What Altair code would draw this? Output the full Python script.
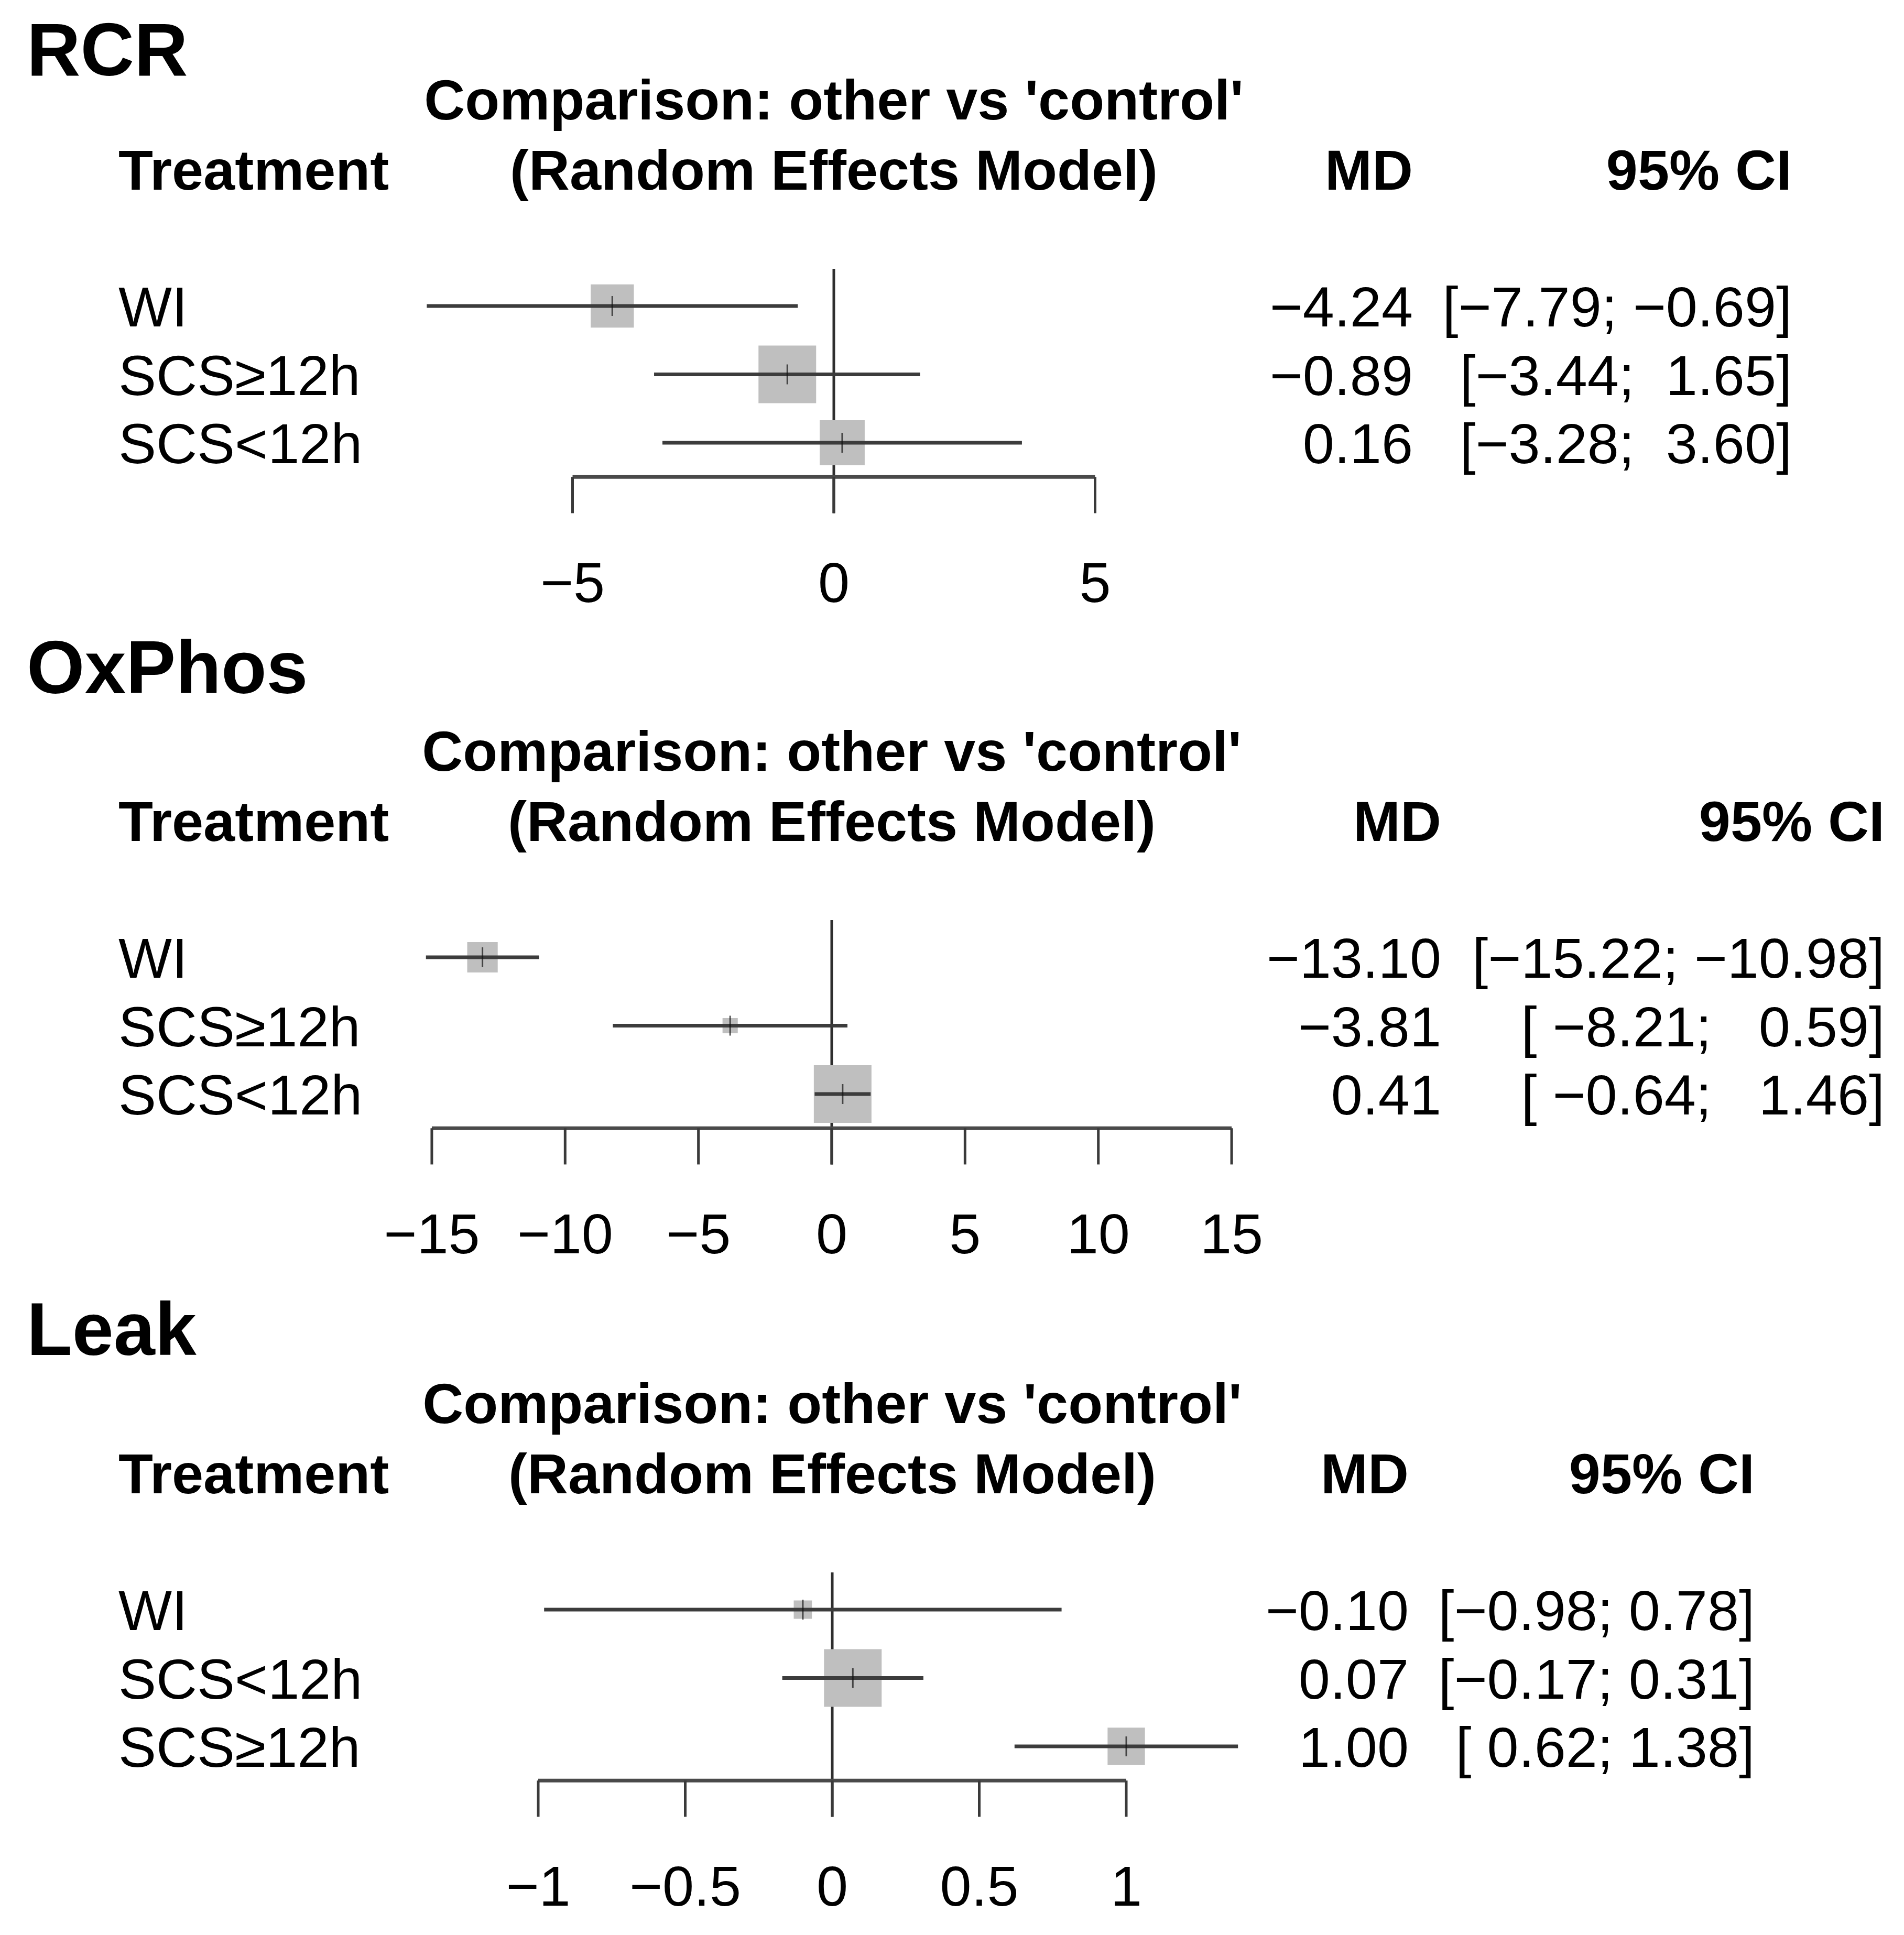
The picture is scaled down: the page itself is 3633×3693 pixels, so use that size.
import altair as alt
import pandas as pd

# ------------------------------------------------------------------ data
panel_titles = ["RCR", "OxPhos", "Leak"]

rcr_treat = ["WI", "SCS≥12h", "SCS<12h"]
rcr_md = [-4.24, -0.89, 0.16]
rcr_lo = [-7.79, -3.44, -3.28]
rcr_hi = [-0.69, 1.65, 3.60]
rcr_weight = [56, 100, 61]
rcr_ticks = [-5, 0, 5]

ox_treat = ["WI", "SCS≥12h", "SCS<12h"]
ox_md = [-13.10, -3.81, 0.41]
ox_lo = [-15.22, -8.21, -0.64]
ox_hi = [-10.98, 0.59, 1.46]
ox_weight = [28, 7, 100]
ox_ticks = [-15, -10, -5, 0, 5, 10, 15]

leak_treat = ["WI", "SCS<12h", "SCS≥12h"]
leak_md = [-0.10, 0.07, 1.00]
leak_lo = [-0.98, -0.17, 0.62]
leak_hi = [0.78, 0.31, 1.38]
leak_weight = [10, 100, 42]
leak_ticks = [-1, -0.5, 0, 0.5, 1]

comparison_text = "Comparison: other vs 'control'"
model_text = "(Random Effects Model)"
header_treatment = "Treatment"
header_md = "MD"
header_ci = "95% CI"

# ------------------------------------------------------------------ layout / style
FONT = "Liberation Sans"
FS = 108          # body text size
TFS = 142         # panel title size
W = 3610
PANEL_H = [1177, 1255, 1240]
ROW0_PX = [576, 642, 632]
ZERO_PX = [1583, 1579, 1580]
PX_PER_UNIT = [99.7, 50.87, 561.0]
MD_X = [2688, 2742, 2680]
CI_X = [3411, 3588, 3340]
TITLE_ROW = [-3.76, -4.25, -4.115]
ROW_PX = 130.5
LABEL_X = 218
TITLE_X = 43
COMP_ROW = -3.03
HEAD_ROW = -2.0
REF_TOP = -0.545
AXIS_ROW = 2.5
TICK_END = 3.03
TICKLAB_ROW = 4.03
SQUARE_MAX = 110 ** 2

MINUS = "\u2212"
NBSP = "\u00a0"


def fmt2(v):
    return f"{v:.2f}"


def rpad(strs):
    w = max(len(s) for s in strs)
    return [s.rjust(w) for s in strs]


def ci_strings(lo, hi):
    L = rpad([fmt2(v) for v in lo])
    H = rpad([fmt2(v) for v in hi])
    return [("[" + a + "; " + b + "]").replace("-", MINUS).replace(" ", NBSP)
            for a, b in zip(L, H)]


def tick_label(v):
    return f"{v:g}".replace("-", MINUS)


def panel(i, title, treat, md, lo, hi, weight, ticks):
    H = PANEL_H[i]
    row0 = ROW0_PX[i]
    xdom = [-ZERO_PX[i] / PX_PER_UNIT[i], (W - ZERO_PX[i]) / PX_PER_UNIT[i]]
    ydom = [-row0 / ROW_PX, (H - row0) / ROW_PX]
    xs = alt.Scale(domain=xdom, nice=False, zero=False)
    ys = alt.Scale(domain=ydom, nice=False, zero=False, reverse=True)

    def X(f):
        return alt.X(f, type="quantitative", scale=xs, axis=None)

    def X2(f):
        return alt.X2(f)

    def Y(f):
        return alt.Y(f, type="quantitative", scale=ys, axis=None)

    rows = pd.DataFrame({
        "treatment": treat,
        "row": list(range(len(treat))),
        "md": md,
        "lo": lo,
        "hi": hi,
        "weight": weight,
        "md_txt": [fmt2(v).replace("-", MINUS) for v in md],
        "ci_txt": ci_strings(lo, hi),
    })
    tk = pd.DataFrame({
        "v": ticks,
        "y": [AXIS_ROW] * len(ticks),
        "y2": [TICK_END] * len(ticks),
        "ly": [TICKLAB_ROW] * len(ticks),
        "label": [tick_label(v) for v in ticks],
    })
    axis_df = pd.DataFrame({"x": [min(ticks)], "x2": [max(ticks)], "y": [AXIS_ROW]})
    ref_df = pd.DataFrame({"x": [0], "y": [REF_TOP], "y2": [TICK_END]})
    title_df = pd.DataFrame({"t": [title], "y": [TITLE_ROW[i]]})
    center_df = pd.DataFrame({"t": [comparison_text, model_text], "x": [0, 0],
                              "y": [COMP_ROW, HEAD_ROW]})
    head_df = pd.DataFrame({"t": [header_treatment], "y": [HEAD_ROW]})
    md_head = pd.DataFrame({"t": [header_md], "y": [HEAD_ROW]})
    ci_head = pd.DataFrame({"t": [header_ci], "y": [HEAD_ROW]})

    ref = alt.Chart(ref_df).mark_rule(color="#2e2e2e", strokeWidth=5).encode(
        x=X("x"), y=Y("y"), y2=alt.Y2("y2"))
    squares = alt.Chart(rows).mark_square(color="#BFBFBF", opacity=1, filled=True).encode(
        x=X("md"), y=Y("row"),
        size=alt.Size("weight:Q", scale=alt.Scale(domain=[0, 100], range=[0, SQUARE_MAX]),
                      legend=None))
    ci = alt.Chart(rows).mark_rule(color="#3c3c3c", strokeWidth=7).encode(
        x=X("lo"), x2=X2("hi"), y=Y("row"))
    est = alt.Chart(rows).mark_tick(orient="vertical", color="#111111", size=38,
                                    thickness=3).encode(x=X("md"), y=Y("row"))
    axis_line = alt.Chart(axis_df).mark_rule(color="#4a4a4a", strokeWidth=7).encode(
        x=X("x"), x2=X2("x2"), y=Y("y"))
    axis_ticks = alt.Chart(tk).mark_rule(color="#3a3a3a", strokeWidth=5).encode(
        x=X("v"), y=Y("y"), y2=alt.Y2("y2"))
    tick_labels = alt.Chart(tk).mark_text(font=FONT, fontSize=FS, align="center",
                                          baseline="middle", dy=7, color="black").encode(
        x=X("v"), y=Y("ly"), text="label:N")

    ttl = alt.Chart(title_df).mark_text(font=FONT, fontSize=TFS, fontWeight="bold",
                                        align="left", baseline="middle", dy=8,
                                        color="black").encode(
        x=alt.value(TITLE_X), y=Y("y"), text="t:N")
    centered = alt.Chart(center_df).mark_text(font=FONT, fontSize=FS, fontWeight="bold",
                                              align="center", baseline="middle", dy=7,
                                              color="black").encode(
        x=X("x"), y=Y("y"), text="t:N")
    head_l = alt.Chart(head_df).mark_text(font=FONT, fontSize=FS, fontWeight="bold",
                                          align="left", baseline="middle", dy=7,
                                          color="black").encode(
        x=alt.value(LABEL_X), y=Y("y"), text="t:N")
    head_md = alt.Chart(md_head).mark_text(font=FONT, fontSize=FS, fontWeight="bold",
                                           align="right", baseline="middle", dy=7,
                                           color="black").encode(
        x=alt.value(MD_X[i]), y=Y("y"), text="t:N")
    head_ci = alt.Chart(ci_head).mark_text(font=FONT, fontSize=FS, fontWeight="bold",
                                           align="right", baseline="middle", dy=7,
                                           color="black").encode(
        x=alt.value(CI_X[i]), y=Y("y"), text="t:N")

    labels = alt.Chart(rows).mark_text(font=FONT, fontSize=FS, align="left",
                                       baseline="middle", dy=7, color="black").encode(
        x=alt.value(LABEL_X), y=Y("row"), text="treatment:N")
    md_col = alt.Chart(rows).mark_text(font=FONT, fontSize=FS, align="right",
                                       baseline="middle", dy=7, color="black").encode(
        x=alt.value(MD_X[i]), y=Y("row"), text="md_txt:N")
    ci_col = alt.Chart(rows).mark_text(font=FONT, fontSize=FS, align="right",
                                       baseline="middle", dy=7, color="black").encode(
        x=alt.value(CI_X[i]), y=Y("row"), text="ci_txt:N")

    return alt.layer(ref, squares, ci, est, axis_line, axis_ticks, tick_labels,
                     ttl, centered, head_l, head_md, head_ci,
                     labels, md_col, ci_col).properties(width=W, height=H)


p1 = panel(0, panel_titles[0], rcr_treat, rcr_md, rcr_lo, rcr_hi, rcr_weight, rcr_ticks)
p2 = panel(1, panel_titles[1], ox_treat, ox_md, ox_lo, ox_hi, ox_weight, ox_ticks)
p3 = panel(2, panel_titles[2], leak_treat, leak_md, leak_lo, leak_hi, leak_weight, leak_ticks)

chart = alt.vconcat(p1, p2, p3, spacing=0).properties(
    padding=0, background="white"
).configure_view(stroke=None)

chart.save("out.html", embed_options={"renderer": "svg", "actions": False})
